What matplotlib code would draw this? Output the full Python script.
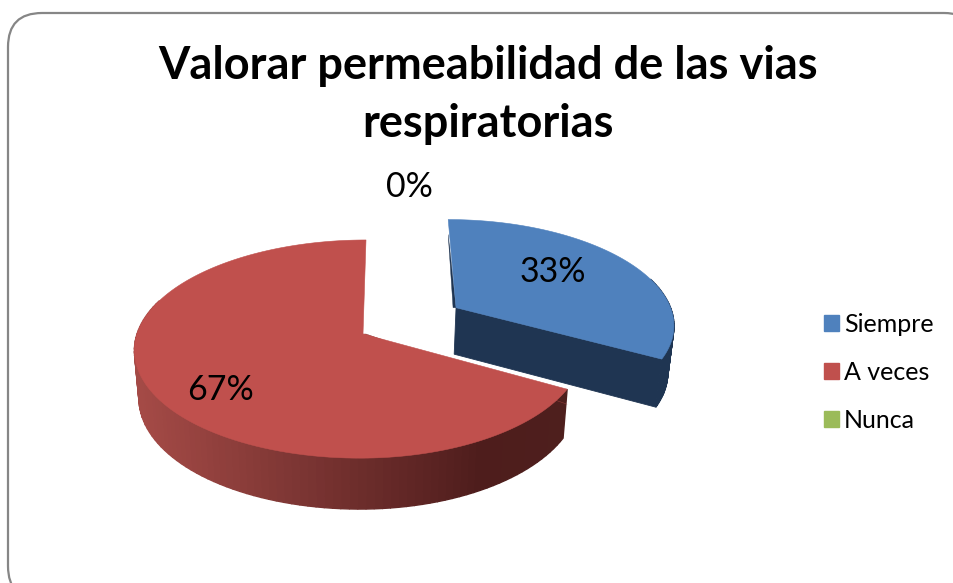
import numpy as np
import matplotlib
matplotlib.use('Agg')
import matplotlib.pyplot as plt
from matplotlib.patches import FancyBboxPatch, Patch

plt.rcParams['font.family'] = ['Lato', 'DejaVu Sans']

title = 'Valorar permeabilidad de las vias\nrespiratorias'
labels = ['Siempre', 'A veces', 'Nunca']
values = [33, 67, 0]
explode = [0.50, 0, 0]
colors = ['#4F81BD', '#C0504D', '#9BBB59']
sliver_colors = ['#1F3552', '#9A403D', '#9BBB59']
pct_labels = ['33%', '67%', '0%']

# pie geometry in pixels
cx, cy = 363, 334
rx_left = 226
rx_right = [222, 219, 222]
ry = 107
k = 0.138
depth = 47.3
shrink = 0.98
lean = 3


def project(u, v, i, low=False):
    # flat disc to screen, far side a bit smaller
    s = 1 / (1 + k * v)
    rx = np.where(u < 0, rx_left, rx_right[i])
    x = u * rx * s + lean * v
    y = v * ry * s
    if low:
        return cx + x * shrink, cy - y + depth * np.sqrt(s)
    return cx + x, cy - y


def side_color(x, i):
    if i == 0:
        return '#1F3552'
    c = np.array([[0xA4, 0x4A, 0x46], [0x7C, 0x35, 0x33], [0x4E, 0x1D, 0x1C], [0x4E, 0x1F, 0x1D]])
    xs = [140, 300, 480, 570]
    return tuple(np.interp(x, xs, c[:, n]) / 255 for n in range(3))


fig = plt.figure(figsize=(9.54, 5.83), dpi=100)
ax = fig.add_axes([0, 0, 1, 1])
ax.set_xlim(0, 954)
ax.set_ylim(583, 0)
ax.axis('off')

ax.add_patch(FancyBboxPatch((43, 48), 900, 517, boxstyle='round,pad=35,rounding_size=34',
                            fc='white', ec='#868686', lw=1.6))

fracs = np.array(values) / sum(values)
start = 90.0
slices = []
for i, f in enumerate(fracs):
    end = start - f * 360
    mid = np.radians((start + end) / 2)
    slices.append((start, end, explode[i] * np.cos(mid), explode[i] * np.sin(mid)))
    start = end

# sides first, red then blue, top faces after
for i in [1, 0]:
    a0, a1, du, dv = slices[i]
    if a0 == a1:
        continue
    th = np.radians(np.linspace(a0, a1, 130))
    u = du + np.cos(th)
    v = dv + np.sin(th)
    for j in range(len(th) - 1):
        if np.sin(th[j]) > 0.3:
            continue
        x0, y0 = project(u[j], v[j], i)
        x1, y1 = project(u[j + 1], v[j + 1], i)
        x2, y2 = project(u[j + 1], v[j + 1], i, low=True)
        x3, y3 = project(u[j], v[j], i, low=True)
        col = side_color((x0 + x1) / 2, i)
        ax.fill([x0, x1, x2, x3], [y0, y1, y2, y3], color=col, lw=1.0, zorder=2 + (i == 0))
    if i == 0:
        # cut face of the pulled out slice
        xa, ya = project(du, dv, i)
        xb, yb = project(u[-1], v[-1], i)
        xc, yc = project(u[-1], v[-1], i, low=True)
        xd, yd = project(du, dv, i, low=True)
        ax.fill([xa, xb, xc, xd], [ya, yb, yc, yd], color='#1F3552', lw=0.6, zorder=3)

for i in [1, 0]:
    a0, a1, du, dv = slices[i]
    if a0 == a1:
        continue
    th = np.radians(np.linspace(a0, a1, 200))
    u = np.r_[du, du + np.cos(th)]
    v = np.r_[dv, dv + np.sin(th)]
    x, y = project(u, v, i)
    # thin dark edge along the cut at the top
    off = 3 if i == 1 else -3
    ax.fill([x[1], x[0] + off, x[0]], [y[1] + 15, y[0], y[0]], color=sliver_colors[i], lw=0.3, zorder=3.5)
    ax.fill(x, y, color=colors[i], lw=0.4, zorder=4)

ax.text(488, 95, title, ha='center', va='center', fontsize=32.5, fontweight='bold',
        linespacing=1.48, color='black')

ax.text(553, 272, pct_labels[0], ha='center', va='center', fontsize=24.5, color='black', zorder=6)
ax.text(221, 390, pct_labels[1], ha='center', va='center', fontsize=24.5, color='black', zorder=6)
ax.text(409, 187, pct_labels[2], ha='center', va='center', fontsize=24.5, color='black', zorder=6)

handles = [Patch(color=c, label=l) for c, l in zip(colors, labels)]
ax.legend(handles=handles, loc='center left', bbox_to_anchor=(0.8635, 0.361), frameon=False,
          fontsize=18, handlelength=0.6, handleheight=0.6, handletextpad=0.2, labelspacing=1.0,
          borderpad=0, borderaxespad=0)

plt.savefig('out.png', dpi=100)
plt.close(fig)
